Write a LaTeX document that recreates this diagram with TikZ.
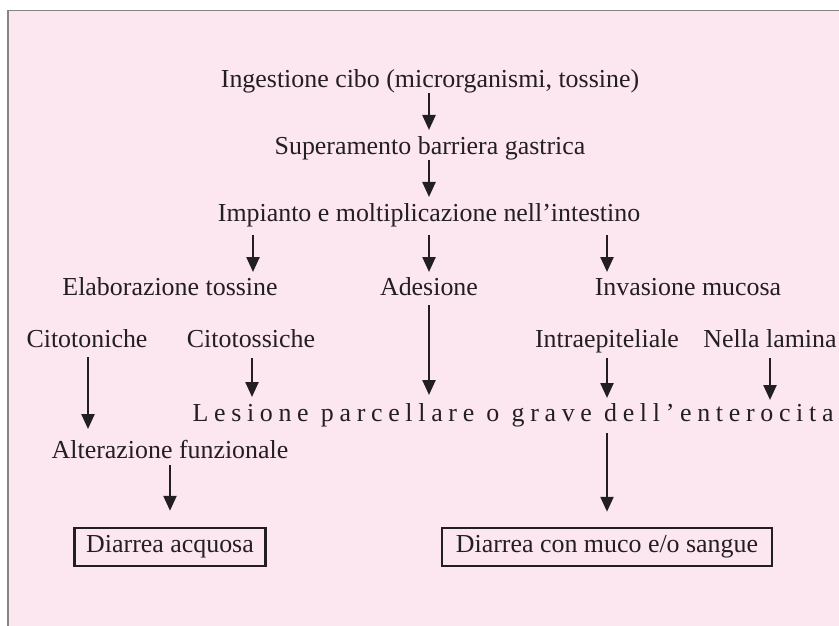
\documentclass[tikz,border=0pt]{standalone}
\usepackage{fontspec}
\setmainfont{Liberation Serif}
\newfontfamily\spacedfont[LetterSpace=22]{Liberation Serif}
\usetikzlibrary{arrows.meta,calc}
\definecolor{bgpink}{HTML}{FCE6EF}
\definecolor{ink}{HTML}{231F20}
\definecolor{framegray}{HTML}{858585}
\tikzset{
  lbl/.style={inner sep=0pt, anchor=base, font=\fontsize{26}{30}\selectfont, text=ink},
  arr/.style={draw=ink, line width=2.4bp, -{Triangle[width=13bp,length=15bp]}},
  boxed/.style={draw=ink, line width=2.5bp, inner sep=0pt, minimum height=38bp, font=\fontsize{26}{30}\selectfont, text=ink},
}
\begin{document}
\begin{tikzpicture}[x=1bp,y=-1bp]
\useasboundingbox (0,0) rectangle (839,626);
\fill[bgpink] (8,10.5) rectangle (839,626);
\draw[framegray, line width=1.5bp] (8,626) -- (8,10.5) -- (839,10.5);

\node[lbl] (ing) at (430,88) {Ingestione cibo (microrganismi, tossine)};
\node[lbl] (sup) at (430,155) {Superamento barriera gastrica};
\node[lbl] (imp) at (429,222) {Impianto e moltiplicazione nell’intestino};
\node[lbl] (ela) at (170,295) {Elaborazione tossine};
\node[lbl] (ade) at (429,295) {Adesione};
\node[lbl] (inv) at (688,295) {Invasione mucosa};
\node[lbl] (cton) at (87,347) {Citotoniche};
\node[lbl] (ctos) at (251,347) {Citotossiche};
\node[lbl] (intra) at (607,347) {Intraepiteliale};
\node[lbl] (nella) at (770,347) {Nella lamina};
\node[lbl] (les) at (513,421) {\spacedfont Lesione parcellare o grave dell’enterocita};
\node[lbl] (alt) at (170,458) {Alterazione funzionale};
\node[boxed, minimum width=191bp] (dacq) at (170,547) {Diarrea acquosa};
\node[boxed, minimum width=330bp] (dmuc) at (607,547) {Diarrea con muco e/o sangue};

\draw[arr] ($(ing.base)+(-1,5)$) -- ($(sup.base)+(-1,-25)$);
\draw[arr] ($(sup.base)+(-1,5)$) -- ($(imp.base)+(0,-25)$);
\draw[arr] ($(imp.base)+(-176,13)$) -- ($(ela.base)+(83,-23)$);
\draw[arr] ($(imp.base)+(0,13)$) -- ($(ade.base)+(0,-23)$);
\draw[arr] ($(imp.base)+(178,13)$) -- ($(inv.base)+(-81,-23)$);
\draw[arr] ($(ade.base)+(0,10)$) -- ($(les.base)+(-84,-26)$);
\draw[arr] ($(cton.base)+(1,10)$) -- ($(alt.base)+(-82,-29)$);
\draw[arr] ($(ctos.base)+(1,11)$) -- ($(les.base)+(-261,-24)$);
\draw[arr] ($(intra.base)+(0,11)$) -- ($(les.base)+(94,-23)$);
\draw[arr] ($(nella.base)+(0,11)$) -- ($(les.base)+(257,-21)$);
\draw[arr] ($(alt.base)+(0,7)$) -- ($(dacq.north)+(0,-16)$);
\draw[arr] ($(les.base)+(94,12)$) -- ($(dmuc.north)+(0,-15)$);
\end{tikzpicture}
\end{document}
